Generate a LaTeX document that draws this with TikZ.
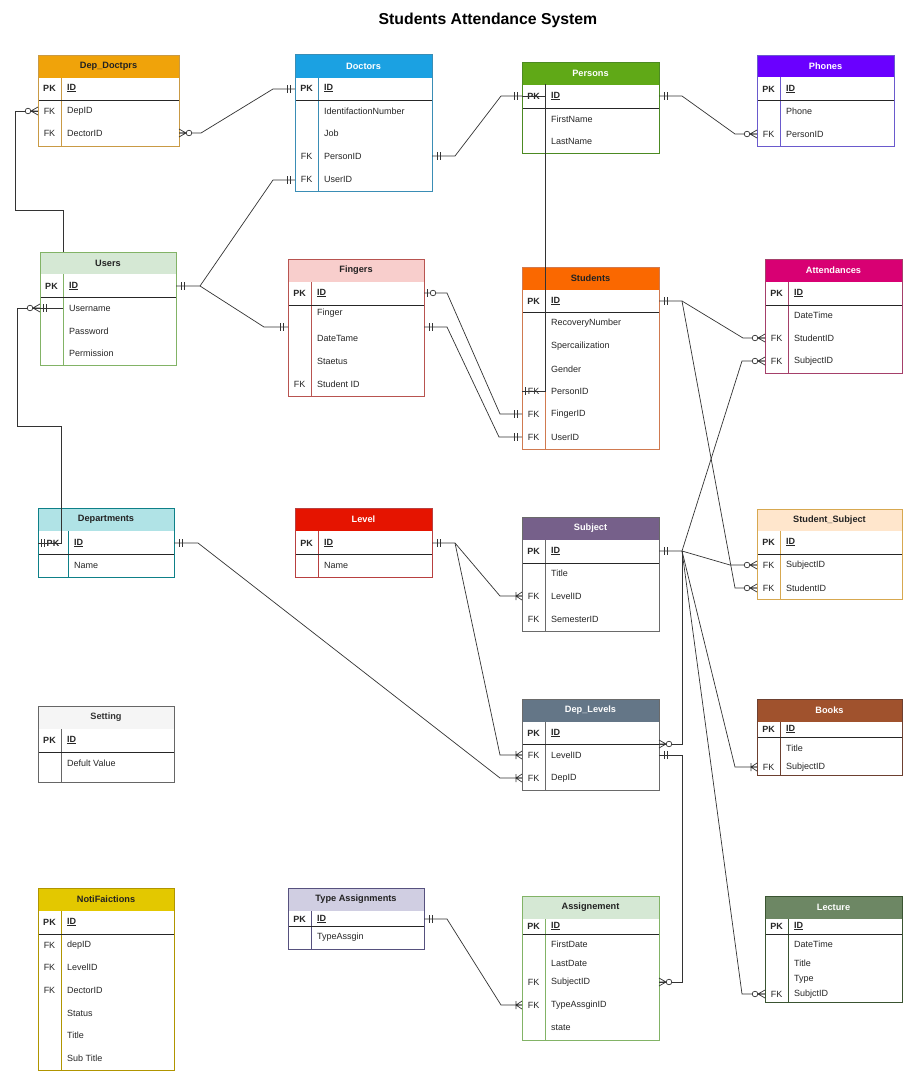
\documentclass[tikz,border=0pt]{standalone}
\usepackage{fontspec}
\setmainfont{Liberation Sans}
\definecolor{cDDf}{HTML}{F0A30A}\definecolor{cDDs}{HTML}{C99A45}\definecolor{cDDt}{HTML}{222222}
\definecolor{cDOf}{HTML}{1BA1E2}\definecolor{cDOs}{HTML}{3A8DB5}\definecolor{cDOt}{HTML}{FFFFFF}
\definecolor{cPEf}{HTML}{60A917}\definecolor{cPEs}{HTML}{4C8A22}\definecolor{cPEt}{HTML}{FFFFFF}
\definecolor{cPHf}{HTML}{6A00FF}\definecolor{cPHs}{HTML}{6A5ACD}\definecolor{cPHt}{HTML}{FFFFFF}
\definecolor{cUSf}{HTML}{D5E8D4}\definecolor{cUSs}{HTML}{82B366}\definecolor{cUSt}{HTML}{222222}
\definecolor{cFIf}{HTML}{F8CECC}\definecolor{cFIs}{HTML}{B85450}\definecolor{cFIt}{HTML}{222222}
\definecolor{cSTf}{HTML}{FA6800}\definecolor{cSTs}{HTML}{D07A50}\definecolor{cSTt}{HTML}{222222}
\definecolor{cATf}{HTML}{D80073}\definecolor{cATs}{HTML}{A5406A}\definecolor{cATt}{HTML}{FFFFFF}
\definecolor{cDPf}{HTML}{B0E3E6}\definecolor{cDPs}{HTML}{0E8088}\definecolor{cDPt}{HTML}{222222}
\definecolor{cLVf}{HTML}{E51400}\definecolor{cLVs}{HTML}{B84040}\definecolor{cLVt}{HTML}{FFFFFF}
\definecolor{cSBf}{HTML}{76608A}\definecolor{cSBs}{HTML}{6A6A6A}\definecolor{cSBt}{HTML}{FFFFFF}
\definecolor{cSSf}{HTML}{FFE6CC}\definecolor{cSSs}{HTML}{D7A850}\definecolor{cSSt}{HTML}{222222}
\definecolor{cDLf}{HTML}{647687}\definecolor{cDLs}{HTML}{6A6A6A}\definecolor{cDLt}{HTML}{FFFFFF}
\definecolor{cBOf}{HTML}{A0522D}\definecolor{cBOs}{HTML}{6D4030}\definecolor{cBOt}{HTML}{FFFFFF}
\definecolor{cSEf}{HTML}{F5F5F5}\definecolor{cSEs}{HTML}{666666}\definecolor{cSEt}{HTML}{333333}
\definecolor{cNOf}{HTML}{E3C800}\definecolor{cNOs}{HTML}{B09500}\definecolor{cNOt}{HTML}{222222}
\definecolor{cTAf}{HTML}{D0CEE2}\definecolor{cTAs}{HTML}{56517E}\definecolor{cTAt}{HTML}{222222}
\definecolor{cASf}{HTML}{D5E8D4}\definecolor{cASs}{HTML}{82B366}\definecolor{cASt}{HTML}{222222}
\definecolor{cLEf}{HTML}{6D8764}\definecolor{cLEs}{HTML}{3A5431}\definecolor{cLEt}{HTML}{FFFFFF}
\newcommand\rowfont{\fontsize{9}{10.5}\selectfont}
\tikzset{
  conn/.style={draw=black!80, line width=0.7pt},
  tabline/.style={line width=0.8pt},
  sepline/.style={draw=black!85, line width=0.8pt},
  rowtxt/.style={anchor=west, inner sep=0pt, font=\rowfont, text=black!85},
  keytxt/.style={inner sep=0pt, font=\rowfont, text=black!85},
  headtxt/.style={inner sep=0pt, font=\bfseries\fontsize{9.2}{11}\selectfont},
  mone/.pic={\draw[conn] (5,-4) -- (5,4) (8,-4) -- (8,4);},
  zmany/.pic={\draw[conn] (0,-4) -- (7,0) -- (0,4) (0,0) -- (7,0);
              \draw[conn, fill=white] (10,0) circle [radius=2.8pt];},
  omany/.pic={\draw[conn] (0,-4) -- (6,0) -- (0,4) (0,0) -- (6,0) (6,-4) -- (6,4);},
  zone/.pic={\draw[conn] (3,-4) -- (3,4); \draw[conn, fill=white] (9,0) circle [radius=2.8pt];},
}
\newcommand\ertab[9]{%
  \def\curL{#2}\def\curR{#3}\def\curT{#4}\def\curH{#5}\def\curD{#8}\def\curTC{#9t}%
  \fill[white] (#2,#4) rectangle (#3,#7);
  \fill[#9f] (#2,#4) rectangle (#3,#5);
  \draw[#9s, tabline] (#8,#5) -- (#8,#7);
  \draw[sepline] (#2,#6) -- (#3,#6);
  \draw[#9s, tabline] (#2,#4) rectangle (#3,#7);
  \coordinate (#1) at (#2,#4);
}
\newcommand\erhead[2]{\node[headtxt, text=\curTC] (#1) at ({(\curL+\curR)/2},{(\curT+\curH)/2}) {#2};}
\newcommand\erpk[2]{%
  \node[keytxt, font=\bfseries\rowfont] (#1k) at ({(\curL+\curD)/2},#2) {PK};
  \node[rowtxt, font=\bfseries\rowfont] (#1) at (\curD+6,#2) {\underline{ID}};
}
\newcommand\erow[4]{%
  \node[keytxt] (#1k) at ({(\curL+\curD)/2},#2) {#3};
  \node[rowtxt] (#1) at (\curD+6,#2) {#4};
}
\begin{document}
\begin{tikzpicture}[x=1pt, y=-1pt]
\useasboundingbox (0,0) rectangle (911,1080);
\fill[white] (0,0) rectangle (911,1080);
\node[font=\bfseries\fontsize{15.8}{18}\selectfont] (title) at (488,20) {Students Attendance System};

% ---------- tables ----------
\ertab{depdoc}{38}{179}{55}{78}{100}{146}{61}{cDD}
\erhead{depdocH}{Dep\_Doctprs}
\erpk{depdocId}{88}
\erow{depdocDep}{111}{FK}{DepID}
\erow{depdocDoc}{133}{FK}{DectorID}

\ertab{doc}{295}{432}{54}{78}{100}{191}{318}{cDO}
\erhead{docH}{Doctors}
\erpk{docId}{88}
\erow{docIdn}{111}{}{IdentifactionNumber}
\erow{docJob}{133}{}{Job}
\erow{docPer}{156}{FK}{PersonID}
\erow{docUsr}{179}{FK}{UserID}

\ertab{per}{522}{659}{62}{85}{108}{153}{545}{cPE}
\erhead{perH}{Persons}
\erpk{perId}{96}
\erow{perFn}{119}{}{FirstName}
\erow{perLn}{141}{}{LastName}

\ertab{pho}{757}{894}{55}{77}{100}{146}{780}{cPH}
\erhead{phoH}{Phones}
\erpk{phoId}{89}
\erow{phoPh}{111}{}{Phone}
\erow{phoPer}{134}{FK}{PersonID}

\ertab{usr}{40}{176}{252}{274}{297}{365}{63}{cUS}
\erhead{usrH}{Users}
\erpk{usrId}{286}
\erow{usrName}{308}{}{Username}
\erow{usrPass}{331}{}{Password}
\erow{usrPerm}{353}{}{Permission}

\ertab{fin}{288}{424}{259}{282}{305}{396}{311}{cFI}
\erhead{finH}{Fingers}
\erpk{finId}{293}
\erow{finF}{313}{}{Finger}
\erow{finDt}{338}{}{DateTame}
\erow{finSt}{361}{}{Staetus}
\erow{finStu}{384}{FK}{Student ID}

\ertab{stu}{522}{659}{267}{290}{312}{449}{545}{cST}
\erhead{stuH}{Students}
\erpk{stuId}{301}
\erow{stuRec}{323}{}{RecoveryNumber}
\erow{stuSpe}{346}{}{Spercailization}
\erow{stuGen}{369}{}{Gender}
\erow{stuPer}{391}{FK}{PersonID}
\erow{stuFin}{414}{FK}{FingerID}
\erow{stuUsr}{437}{FK}{UserID}

\ertab{att}{765}{902}{259}{282}{305}{373}{788}{cAT}
\erhead{attH}{Attendances}
\erpk{attId}{293}
\erow{attDt}{315}{}{DateTime}
\erow{attStu}{338}{FK}{StudentID}
\erow{attSub}{361}{FK}{SubjectID}

\ertab{dep}{38}{174}{508}{531}{554}{577}{68}{cDP}
\erhead{depH}{Departments}
\erpk{depId}{543}
\erow{depName}{565}{}{Name}

\ertab{lev}{295}{432}{508}{531}{554}{577}{318}{cLV}
\erhead{levH}{Level}
\erpk{levId}{543}
\erow{levName}{565}{}{Name}

\ertab{sub}{522}{659}{517}{540}{563}{631}{545}{cSB}
\erhead{subH}{Subject}
\erpk{subId}{551}
\erow{subTi}{573}{}{Title}
\erow{subLev}{596}{FK}{LevelID}
\erow{subSem}{619}{FK}{SemesterID}

\ertab{ss}{757}{902}{509}{531}{554}{599}{780}{cSS}
\erhead{ssH}{Student\_Subject}
\erpk{ssId}{542}
\erow{ssSub}{565}{FK}{SubjectID}
\erow{ssStu}{588}{FK}{StudentID}

\ertab{dl}{522}{659}{699}{722}{744}{790}{545}{cDL}
\erhead{dlH}{Dep\_Levels}
\erpk{dlId}{733}
\erow{dlLev}{755}{FK}{LevelID}
\erow{dlDep}{778}{FK}{DepID}

\ertab{bk}{757}{902}{699}{722}{737}{775}{780}{cBO}
\erhead{bkH}{Books}
\erpk{bkId}{729}
\erow{bkTi}{748}{}{Title}
\erow{bkSub}{767}{FK}{SubjectID}

\ertab{set}{38}{174}{706}{729}{752}{782}{61}{cSE}
\erhead{setH}{Setting}
\erpk{setId}{740}
\erow{setDv}{763}{}{Defult Value}

\ertab{noti}{38}{174}{888}{911}{934}{1070}{61}{cNO}
\erhead{notiH}{NotiFaictions}
\erpk{notiId}{922}
\erow{notiDep}{945}{FK}{depID}
\erow{notiLev}{967}{FK}{LevelID}
\erow{notiDoc}{990}{FK}{DectorID}
\erow{notiSt}{1013}{}{Status}
\erow{notiTi}{1035}{}{Title}
\erow{notiSub}{1058}{}{Sub Title}

\ertab{ta}{288}{424}{888}{911}{926}{949}{311}{cTA}
\erhead{taH}{Type Assignments}
\erpk{taId}{919}
\erow{taTy}{937}{}{TypeAssgin}

\ertab{as}{522}{659}{896}{919}{934}{1040}{545}{cAS}
\erhead{asH}{Assignement}
\erpk{asId}{926}
\erow{asFd}{944}{}{FirstDate}
\erow{asLd}{963}{}{LastDate}
\erow{asSub}{982}{FK}{SubjectID}
\erow{asTa}{1005}{FK}{TypeAssginID}
\erow{asSt}{1028}{}{state}

\ertab{lec}{765}{902}{896}{919}{934}{1002}{788}{cLE}
\erhead{lecH}{Lecture}
\erpk{lecId}{926}
\erow{lecDt}{944}{}{DateTime}
\erow{lecTi}{963}{}{Title}
\erow{lecTy}{979}{}{Type}
\erow{lecSub}{994}{FK}{SubjctID}

% ---------- connector end points ----------
\coordinate (pDDdepW) at (38,111);
\coordinate (pUsrTop) at (63,252);
\coordinate (pDDdocE) at (179,133);
\coordinate (pDocIdW) at (295,89);
\coordinate (pDocPerE) at (432,156);
\coordinate (pPerIdW) at (522,96);
\coordinate (pPerIdE) at (659,96);
\coordinate (pPhoPerW) at (757,134);
\coordinate (pUsrIdE) at (176,286);
\coordinate (pDocUsrW) at (295,180);
\coordinate (pFinW) at (288,327);
\coordinate (pUsrNameW) at (40,308);
\coordinate (pUsrNameD) at (63,308);
\coordinate (pDepIdW) at (38,543);
\coordinate (pFinIdE) at (424,293);
\coordinate (pFinE) at (424,327);
\coordinate (pStuFinW) at (522,414);
\coordinate (pStuUsrW) at (522,437);
\coordinate (pPerDiv) at (545,84);
\coordinate (pStuPerW) at (522,391);
\coordinate (pStuIdE) at (659,301);
\coordinate (pAttStuW) at (765,338);
\coordinate (pSsStuW) at (757,588);
\coordinate (pSubIdE) at (659,551);
\coordinate (pAttSubW) at (765,361);
\coordinate (pSsSubW) at (757,565);
\coordinate (pDlIdE) at (659,744);
\coordinate (pBkSubW) at (757,767);
\coordinate (pLecSubW) at (765,994);
\coordinate (pDlLevE) at (659,755);
\coordinate (pAsSubE) at (659,982);
\coordinate (pDepIdE) at (174,543);
\coordinate (pDlDepW) at (522,778);
\coordinate (pLevIdE) at (432,543);
\coordinate (pSubLevW) at (522,596);
\coordinate (pDlLevW) at (522,755);
\coordinate (pTaIdE) at (424,919);
\coordinate (pAsTaW) at (522,1005);

% ---------- connectors ----------
\draw[conn] (pDDdepW) -- (15,111) -- (15,210) -- (63,210) -- (pUsrTop);
\draw[conn] (pDDdocE) -- (201,133) -- (273,89) -- (pDocIdW);
\draw[conn] (pDocPerE) -- (455,156) -- (501,96) -- (pPerIdW);
\draw[conn] (pPerIdE) -- (682,96) -- (735,134) -- (pPhoPerW);
\draw[conn] (pUsrIdE) -- (200,286) -- (273,180) -- (pDocUsrW);
\draw[conn] (200,286) -- (264,327) -- (pFinW);
\draw[conn] (pDepIdW) -- (61,543) -- (61,426) -- (17,426) -- (17,308) -- (pUsrNameD);
\draw[conn] (pFinIdE) -- (447,293) -- (500,414) -- (pStuFinW);
\draw[conn] (pFinE) -- (447,327) -- (499,437) -- (pStuUsrW);
\draw[conn] (pPerIdW) -- (545,96);
\draw[conn] (pPerDiv) -- (545,391) -- (pStuPerW);
\draw[conn] (525,387) -- (525,395);
\draw[conn] (pStuIdE) -- (682,301) -- (743,338) -- (pAttStuW);
\draw[conn] (682,301) -- (735,588) -- (pSsStuW);
\draw[conn] (pSubIdE) -- (682,551) -- (742,361) -- (pAttSubW);
\draw[conn] (682,551) -- (730,565) -- (pSsSubW);
\draw[conn] (682,551) -- (682,744) -- (pDlIdE);
\draw[conn] (682,551) -- (735,767) -- (pBkSubW);
\draw[conn] (682,551) -- (742,994) -- (pLecSubW);
\draw[conn] (pDlLevE) -- (682,755) -- (682,982) -- (pAsSubE);
\draw[conn] (pDepIdE) -- (198,543) -- (500,778) -- (pDlDepW);
\draw[conn] (pLevIdE) -- (455,543) -- (500,596) -- (pSubLevW);
\draw[conn] (455,543) -- (500,755) -- (pDlLevW);
\draw[conn] (pTaIdE) -- (447,919) -- (501,1005) -- (pAsTaW);

% ---------- markers ----------
\pic[xscale=-1] at (pDDdepW) {zmany};
\pic at (pDDdocE) {zmany};
\pic[xscale=-1] at (pDocIdW) {mone};
\pic at (pDocPerE) {mone};
\pic[xscale=-1] at (pPerIdW) {mone};
\pic at (pPerIdE) {mone};
\pic[xscale=-1] at (pPhoPerW) {zmany};
\pic at (pUsrIdE) {mone};
\pic[xscale=-1] at (pDocUsrW) {mone};
\pic[xscale=-1] at (pFinW) {mone};
\pic[xscale=-1] at (pUsrNameW) {zmany};
\pic at (38,308) {mone};
\pic at (36,543) {mone};
\pic at (pFinIdE) {zone};
\pic at (pFinE) {mone};
\pic[xscale=-1] at (pStuFinW) {mone};
\pic[xscale=-1] at (pStuUsrW) {mone};
\pic at (pStuIdE) {mone};
\pic[xscale=-1] at (pAttStuW) {zmany};
\pic[xscale=-1] at (pSsStuW) {zmany};
\pic at (pSubIdE) {mone};
\pic[xscale=-1] at (pAttSubW) {zmany};
\pic[xscale=-1] at (pSsSubW) {zmany};
\pic at (pDlIdE) {zmany};
\pic[xscale=-1] at (pBkSubW) {omany};
\pic[xscale=-1] at (pLecSubW) {zmany};
\pic at (pDlLevE) {mone};
\pic at (pAsSubE) {zmany};
\pic at (pDepIdE) {mone};
\pic[xscale=-1] at (pDlDepW) {omany};
\pic at (pLevIdE) {mone};
\pic[xscale=-1] at (pSubLevW) {omany};
\pic[xscale=-1] at (pDlLevW) {omany};
\pic at (pTaIdE) {mone};
\pic[xscale=-1] at (pAsTaW) {omany};
\end{tikzpicture}
\end{document}
